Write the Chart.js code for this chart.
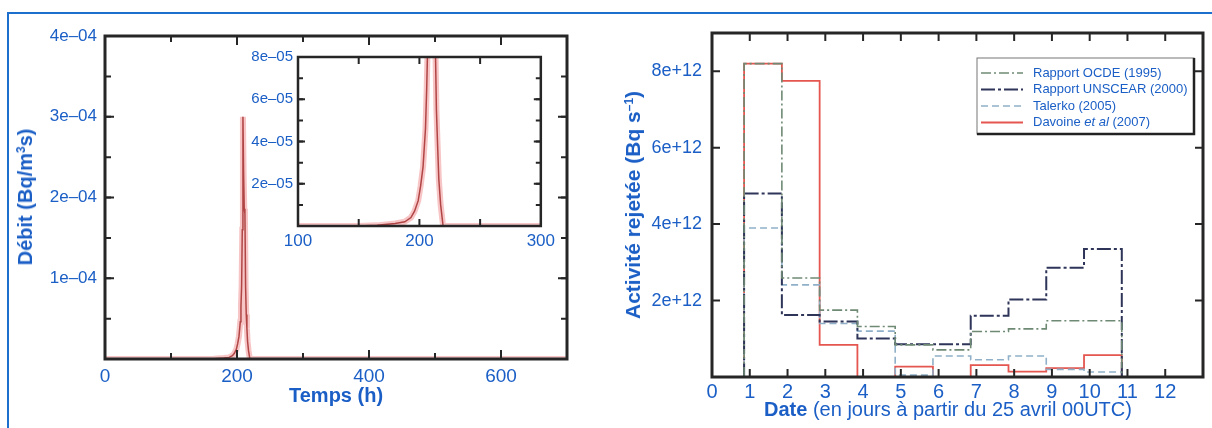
<!DOCTYPE html>
<html>
<head>
<meta charset="utf-8">
<script src="https://cdn.jsdelivr.net/npm/chart.js@4.4.1/dist/chart.umd.min.js"></script>
<style>
body { margin: 0; background: #fff; width: 1212px; height: 428px; overflow: hidden; position: relative; font-family: 'Liberation Sans', Arial, sans-serif; }
#frame { position: absolute; left: 7px; top: 12px; width: 1210px; height: 420px; border-top: 2px solid #1d6fce; border-left: 2px solid #1d6fce; }
canvas { position: absolute; }
.ttl { position: absolute; color: #1b5fc6; font-size: 20px; white-space: nowrap; line-height: 22px; }
.ttl b { font-weight: bold; }
.rot { transform: translate(-50%, -50%) rotate(-90deg); }
sup { font-size: 12px; vertical-align: 7px; line-height: 0; }
</style>
</head>
<body>
<div id="frame"></div>
<canvas id="leftChart" width="600" height="428" style="left:0;top:0"></canvas>
<canvas id="insetChart" width="320" height="240" style="left:240px;top:30px"></canvas>
<canvas id="rightChart" width="612" height="428" style="left:600px;top:0"></canvas>

<div class="ttl rot" style="left:25px;top:197px"><b>Débit (Bq/m<sup>3</sup>s)</b></div>
<div class="ttl" style="left:289px;top:384px"><b>Temps (h)</b></div>
<div class="ttl rot" style="left:633px;top:205px;font-size:21px"><b>Activité rejetée (Bq s<sup>–1</sup>)</b></div>
<div class="ttl" style="left:764px;top:398px"><b>Date</b> (en jours à partir du 25 avril 00UTC)</div>

<script>
// Left panel - release rate over time (main plot + zoomed inset)
const timeHours = [0, 100, 150, 165, 180, 188, 193, 196, 199, 201, 203, 205, 206, 207, 208, 209, 210, 211, 212, 213, 214, 215, 216, 217.5, 219.5, 250, 300, 700];
const debit = [0, 0, 0, 0.03e-5, 0.12e-5, 0.2e-5, 0.4e-5, 0.7e-5, 1.2e-5, 1.9e-5, 2.8e-5, 4.6e-5, 6.5e-5, 9e-5, 1.6e-4, 3.0e-4, 2.3e-4, 1.86e-4, 1.8e-4, 9e-5, 5.5e-5, 3.8e-5, 2.2e-5, 1e-5, 0, 0, 0, 0];

const mainXTicks = [0, 200, 400, 600];
const mainXLabels = ['0', '200', '400', '600'];
const mainYTicks = [1e-4, 2e-4, 3e-4, 4e-4];
const mainYLabels = ['1e–04', '2e–04', '3e–04', '4e–04'];

const insetXTicks = [100, 200, 300];
const insetXLabels = ['100', '200', '300'];
const insetYTicks = [2e-5, 4e-5, 6e-5, 8e-5];
const insetYLabels = ['2e–05', '4e–05', '6e–05', '8e–05'];

// Right panel - daily release estimates (step curves)
const binStart = [0.85, 1.85, 2.85, 3.85, 4.85, 5.85, 6.85, 7.85, 8.85, 9.85];
const binEnd = 10.85;
const seriesLabels = ['Rapport OCDE (1995)', 'Rapport UNSCEAR (2000)', 'Talerko (2005)', 'Davoine et al (2007)'];
const ocde = [8.2e12, 2.59e12, 1.75e12, 1.32e12, 0.84e12, 0.71e12, 1.19e12, 1.26e12, 1.47e12, 1.47e12];
const unscear = [4.8e12, 1.62e12, 1.45e12, 1.01e12, 0.86e12, 0.86e12, 1.6e12, 2.03e12, 2.86e12, 3.35e12];
const talerko = [3.9e12, 2.41e12, 1.4e12, 1.2e12, 0.05e12, 0.55e12, 0.45e12, 0.55e12, 0.2e12, 0.13e12];
const davoine = [8.2e12, 7.75e12, 0.84e12, 0, 0.27e12, 0, 0.31e12, 0.14e12, 0.23e12, 0.57e12];

const rightXTicks = [0, 1, 2, 3, 4, 5, 6, 7, 8, 9, 10, 11, 12];
const rightXLabels = ['0', '1', '2', '3', '4', '5', '6', '7', '8', '9', '10', '11', '12'];
const rightYTicks = [2e12, 4e12, 6e12, 8e12];
const rightYLabels = ['2e+12', '4e+12', '6e+12', '8e+12'];

const BLUE = '#1b5fc6';
Chart.defaults.font.family = "'Liberation Sans', Arial, sans-serif";
Chart.defaults.color = BLUE;

// frame + inward tick marks on all four sides
const frameTicks = {
    id: 'frameTicks',
    afterDatasetsDraw(chart, args, o) {
        const ctx = chart.ctx;
        const a = chart.chartArea;
        ctx.save();
        ctx.strokeStyle = '#262626';
        const marks = (scale, step, len) => {
            for (let i = 1; scale.min + i * step < scale.max - step * 1e-6; i++) {
                const p = scale.getPixelForValue(scale.min + i * step);
                ctx.beginPath();
                if (scale.isHorizontal()) {
                    ctx.moveTo(p, a.bottom); ctx.lineTo(p, a.bottom - len);
                    ctx.moveTo(p, a.top); ctx.lineTo(p, a.top + len);
                } else {
                    ctx.moveTo(a.left, p); ctx.lineTo(a.left + len, p);
                    ctx.moveTo(a.right, p); ctx.lineTo(a.right - len, p);
                }
                ctx.stroke();
            }
        };
        ctx.lineWidth = 2;
        if (o.xMinor) marks(chart.scales.x, o.xMinor, o.minorLen);
        if (o.yMinor) marks(chart.scales.y, o.yMinor, o.minorLen);
        marks(chart.scales.x, o.xStep, o.majorLen);
        marks(chart.scales.y, o.yStep, o.majorLen);
        ctx.lineWidth = o.frameWidth;
        ctx.strokeRect(a.left, a.top, a.width, a.height);
        ctx.restore();
    }
};

// boxed legend in the upper right of the plot
const boxLegend = {
    id: 'boxLegend',
    afterDraw(chart, args, o) {
        const ctx = chart.ctx;
        const a = chart.chartArea;
        const left = a.right - o.right - o.width;
        const top = a.top + o.top;
        ctx.save();
        ctx.fillStyle = '#fff';
        ctx.fillRect(left, top, o.width, o.height);
        ctx.strokeStyle = '#777';
        ctx.lineWidth = 1;
        ctx.strokeRect(left, top, o.width, o.height);
        ctx.strokeStyle = '#222';
        ctx.lineWidth = 2.5;
        ctx.beginPath();
        ctx.moveTo(left, top + o.height); ctx.lineTo(left + o.width, top + o.height); ctx.lineTo(left + o.width, top);
        ctx.stroke();
        chart.data.datasets.forEach((ds, i) => {
            const y = top + o.firstRow + i * o.rowGap;
            ctx.strokeStyle = ds.borderColor;
            ctx.lineWidth = ds.borderWidth;
            ctx.setLineDash(ds.borderDash || []);
            ctx.beginPath();
            ctx.moveTo(left + 4, y); ctx.lineTo(left + 46, y);
            ctx.stroke();
            ctx.setLineDash([]);
            ctx.fillStyle = BLUE;
            ctx.textBaseline = 'middle';
            let x = left + 56;
            ds.label.split(/(et al)/).forEach(part => {
                if (!part) return;
                ctx.font = (part === 'et al' ? 'italic ' : '') + o.fontSize + "px 'Liberation Sans', Arial, sans-serif";
                ctx.fillText(part, x, y);
                x += ctx.measureText(part).width;
            });
        });
        ctx.restore();
    }
};

function fixedTicks(values) {
    return scale => { scale.ticks = values.map(v => ({ value: v })); };
}

function axis(min, max, values, labels, size, pad, fit) {
    return {
        type: 'linear', min: min, max: max,
        grid: { display: false, drawTicks: false },
        border: { display: false },
        afterBuildTicks: fixedTicks(values),
        afterFit: fit,
        ticks: {
            color: BLUE, padding: pad, autoSkip: false, maxRotation: 0,
            font: { size: size },
            callback: (v, i) => labels[i]
        }
    };
}

function curveSets() {
    const pts = timeHours.map((t, i) => ({ x: t, y: debit[i] }));
    return [
        { data: pts, borderColor: 'rgba(236, 110, 110, 0.4)', borderWidth: 6, pointRadius: 0, tension: 0 },
        { data: pts, borderColor: '#8a2b2b', borderWidth: 1.5, pointRadius: 0, tension: 0 }
    ];
}

const baseOptions = {
    responsive: false,
    animation: false,
    events: [],
    plugins: { legend: { display: false }, tooltip: { enabled: false } }
};

new Chart(document.getElementById('leftChart'), {
    type: 'line',
    data: { datasets: curveSets() },
    plugins: [frameTicks],
    options: {
        ...baseOptions,
        layout: { padding: { left: 0, top: 36, right: 33, bottom: 0 } },
        scales: {
            x: axis(0, 700, mainXTicks, mainXLabels, 19, 6, s => { s.height = 69; }),
            y: axis(0, 4e-4, mainYTicks, mainYLabels, 17, 8, s => { s.width = 105; })
        },
        plugins: { ...baseOptions.plugins, frameTicks: { xStep: 200, xMinor: 100, yStep: 1e-4, yMinor: 0.5e-4, majorLen: 9, minorLen: 6, frameWidth: 3 } }
    }
});

new Chart(document.getElementById('insetChart'), {
    type: 'line',
    data: { datasets: curveSets() },
    plugins: [frameTicks],
    options: {
        ...baseOptions,
        layout: { padding: { left: 0, top: 27, right: 17, bottom: 0 } },
        scales: {
            x: axis(100, 300, insetXTicks, insetXLabels, 17, 5, s => { s.height = 44; }),
            y: axis(0, 8e-5, insetYTicks, insetYLabels, 15, 5, s => { s.width = 58; })
        },
        plugins: { ...baseOptions.plugins, frameTicks: { xStep: 50, yStep: 2e-5, yMinor: 1e-5, majorLen: 7, minorLen: 5, frameWidth: 2.5 } }
    }
});

function stepPoints(vals) {
    const pts = [{ x: binStart[0], y: 0 }];
    vals.forEach((v, i) => pts.push({ x: binStart[i], y: v }));
    pts.push({ x: binEnd, y: 0 });
    return pts;
}

const seriesStyle = [
    { values: ocde, color: '#6f8a74', width: 1.6, dash: [10, 3, 2, 3] },
    { values: unscear, color: '#2e3559', width: 2, dash: [14, 3, 3, 3] },
    { values: talerko, color: '#8fb0c8', width: 1.6, dash: [7, 4] },
    { values: davoine, color: '#e4564f', width: 1.8, dash: [] }
];

new Chart(document.getElementById('rightChart'), {
    type: 'line',
    data: {
        datasets: seriesStyle.map((s, i) => ({
            label: seriesLabels[i],
            data: stepPoints(s.values),
            stepped: 'before',
            borderColor: s.color,
            borderWidth: s.width,
            borderDash: s.dash,
            pointRadius: 0
        }))
    },
    plugins: [frameTicks, boxLegend],
    options: {
        ...baseOptions,
        layout: { padding: { left: 0, top: 33, right: 9, bottom: 0 } },
        scales: {
            x: axis(0, 13, rightXTicks, rightXLabels, 20, 3, s => { s.height = 51; }),
            y: axis(0, 9e12, rightYTicks, rightYLabels, 18, 10, s => { s.width = 112; })
        },
        plugins: {
            ...baseOptions.plugins,
            frameTicks: { xStep: 1, yStep: 2e12, majorLen: 8, minorLen: 5, frameWidth: 3 },
            boxLegend: { right: 9, top: 25, width: 217, height: 76, firstRow: 15, rowGap: 16.5, fontSize: 13 }
        }
    }
});
</script>
</body>
</html>
